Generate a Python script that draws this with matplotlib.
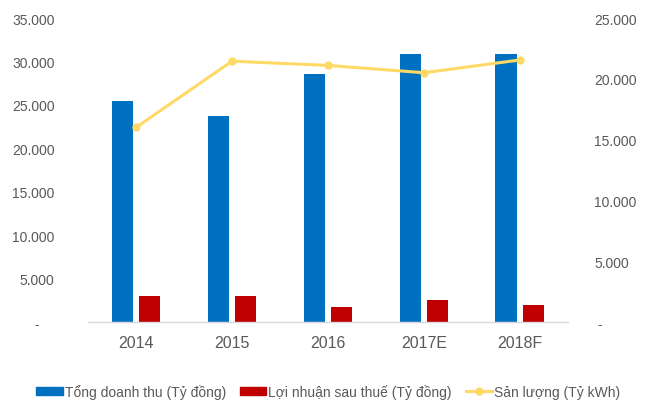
import matplotlib
matplotlib.use("Agg")
import matplotlib.pyplot as plt
import numpy as np
from matplotlib.lines import Line2D
from matplotlib.patches import Patch

categories = ["2014", "2015", "2016", "2017E", "2018F"]
revenue = [25400, 23700, 28600, 30900, 30900]
profit = [3000, 3000, 1750, 2550, 2000]
output = [16000, 21450, 21100, 20500, 21550]

left_ticks = [0, 5000, 10000, 15000, 20000, 25000, 30000, 35000]
right_ticks = [0, 5000, 10000, 15000, 20000, 25000]

def fmt(v):
    return "-" if v == 0 else f"{v:,.0f}".replace(",", ".")

plt.rcParams['font.family'] = ['Liberation Sans', 'DejaVu Sans']
grey = "#595959"
blue = "#0070C0"
red = "#C00000"
yellow = "#FFD966"

fig = plt.figure(figsize=(6.5, 4.14), dpi=100)
ax = fig.add_axes([0.1354, 0.2198, 0.7384, 0.7343])
x = np.arange(len(categories))
w = 0.224
off = 0.143
ax.bar(x - off, revenue, width=w, color=blue, zorder=2)
ax.bar(x + off, profit, width=w, color=red, zorder=2)
ax.set_xlim(-0.5, len(categories) - 0.5)
ax.set_ylim(0, 35000)
ax.set_yticks(left_ticks)
ax.set_yticklabels([fmt(v) + ("    " if v == 0 else "") for v in left_ticks])
ax.set_xticks(x)
ax.set_xticklabels(categories)

ax2 = ax.twinx()
ax2.plot(x, output, color=yellow, lw=2.2, marker="o", ms=5, zorder=3)
ax2.set_ylim(0, 25000)
ax2.set_yticks(right_ticks)
ax2.set_yticklabels([(" " + fmt(v)) if v == 0 else fmt(v) for v in right_ticks])

for a in (ax, ax2):
    for s in a.spines.values():
        s.set_visible(False)
ax.spines['bottom'].set_visible(True)
ax.spines['bottom'].set_color("#D9D9D9")
ax.spines['bottom'].set_linewidth(1.0)

ax.tick_params(axis='y', length=0, pad=24, labelsize=10, labelcolor=grey)
ax2.tick_params(axis='y', length=0, pad=19, labelsize=10, labelcolor=grey)
ax.tick_params(axis='x', length=0, pad=9, labelsize=11.5, labelcolor=grey)

handles = [
    Patch(color=blue),
    Patch(color=red),
    Line2D([0], [0], color=yellow, lw=2.2, marker="o", ms=5),
]
labels = ["Tổng doanh thu (Tỷ đồng)", "Lợi nhuận sau thuế (Tỷ đồng)", "Sản lượng (Tỷ kWh)"]
leg = fig.legend(handles, labels, loc="center", bbox_to_anchor=(0.505, 0.052), ncol=3,
                 frameon=False, fontsize=10, handlelength=1.9, handleheight=0.6,
                 handletextpad=0.15, columnspacing=1.0, labelcolor=grey)

fig.savefig("out.png", dpi=100)
